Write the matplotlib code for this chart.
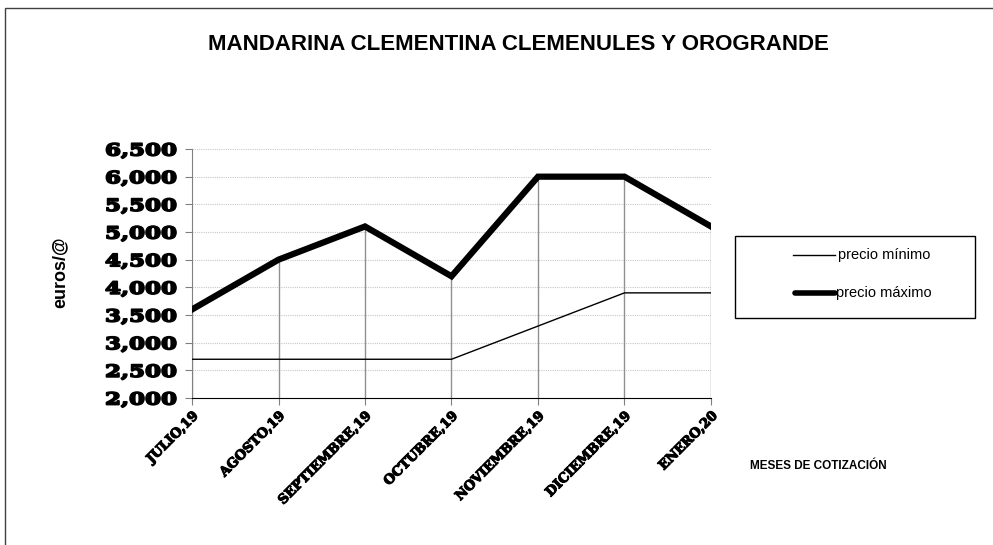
import matplotlib
matplotlib.use("Agg")
import matplotlib.pyplot as plt
from matplotlib.patches import Rectangle
from matplotlib.lines import Line2D
from matplotlib.transforms import Affine2D
import matplotlib.patheffects as pe

months = ["JULIO,19", "AGOSTO,19", "SEPTIEMBRE,19", "OCTUBRE,19",
          "NOVIEMBRE,19", "DICIEMBRE,19", "ENERO,20"]
precio_min = [2.7, 2.7, 2.7, 2.7, 3.3, 3.9, 3.9]
precio_max = [3.6, 4.5, 5.1, 4.2, 6.0, 6.0, 5.1]
yticks = [2.0, 2.5, 3.0, 3.5, 4.0, 4.5, 5.0, 5.5, 6.0, 6.5]
ytick_labels = ["2,000", "2,500", "3,000", "3,500", "4,000", "4,500",
                "5,000", "5,500", "6,000", "6,500"]


class StretchStroke(pe.AbstractPathEffect):
    """Draw text path stretched horizontally with an extra stroke."""

    def __init__(self, sx=1.0, lw=1.0):
        super().__init__()
        self.sx = sx
        self.lw = lw

    def draw_path(self, renderer, gc, tpath, affine, rgbFace=None):
        aff = Affine2D().scale(self.sx, 1.0) + affine
        gc0 = renderer.new_gc()
        gc0.copy_properties(gc)
        gc0.set_linewidth(self.lw)
        gc0.set_foreground("black")
        renderer.draw_path(gc0, tpath, aff, rgbFace)
        gc0.restore()


W, H = 993, 545
fig = plt.figure(figsize=(W / 100, H / 100), dpi=100)
fig.patch.set_facecolor("white")

# outer chart border (top and left visible)
fig.add_artist(Rectangle((5 / W, -0.05), 1.2, 1 - 8 / H + 0.05,
                         transform=fig.transFigure, fill=False,
                         edgecolor="#404040", linewidth=1.0))

ax = fig.add_axes([192 / W, 1 - 398 / H, (711 - 192) / W, (398 - 149) / H])
x = list(range(len(months)))

ax.set_xlim(0, len(months) - 1)
ax.set_ylim(2.0, 6.5)

# horizontal dotted gridlines
for yv in yticks[1:]:
    ax.axhline(yv, color="#c8c8c8", linestyle=(0, (1, 1)), linewidth=0.8, zorder=0)

# drop lines
ax.vlines(x, 2.0, precio_max, colors="#909090", linewidth=1.0, zorder=1)

ax.plot(x, precio_min, color="black", linewidth=1.0, label="precio mínimo", zorder=3)
ax.plot(x, precio_max, color="black", linewidth=4.5, label="precio máximo",
        solid_joinstyle="miter", zorder=4)

# y tick labels: wide heavy serif (drawn as stretched text)
ax.set_yticks(yticks)
ax.set_yticklabels([""] * len(yticks))
x_left_axes = (105 - 192) / (711 - 192)
for yv, lab in zip(yticks, ytick_labels):
    ax.text(x_left_axes, yv, lab, transform=ax.get_yaxis_transform(),
            ha="left", va="center_baseline", fontfamily="DejaVu Serif",
            fontweight="bold", fontsize=12,
            path_effects=[StretchStroke(sx=1.38, lw=1.3)], clip_on=False)

ax.set_xticks(x)
ax.set_xticklabels(months, rotation=45, ha="right", rotation_mode="anchor",
                   fontfamily="DejaVu Serif", fontweight="bold", fontsize=9.5,
                   path_effects=[pe.withStroke(linewidth=0.8, foreground="black")])

for s in ["top", "right"]:
    ax.spines[s].set_visible(False)
ax.spines["left"].set_color("#808080")
ax.spines["bottom"].set_color("black")
ax.tick_params(axis="y", direction="out", length=5, color="#808080", pad=8)
ax.tick_params(axis="x", direction="out", length=5, color="#808080", pad=3)

fig.text(518 / W, 1 - 45 / H, "MANDARINA CLEMENTINA CLEMENULES Y OROGRANDE",
         ha="center", va="center", fontsize=16, fontweight="bold",
         fontfamily="Liberation Sans")
fig.text(60 / W, 1 - 272 / H, "euros/@", rotation=90, ha="center", va="center",
         fontsize=13, fontweight="bold", fontfamily="Liberation Sans")
fig.text(818 / W, 1 - 466 / H, "MESES DE COTIZACIÓN", ha="center", va="center",
         fontsize=8.5, fontweight="bold", fontfamily="Liberation Sans")

# legend
fig.add_artist(Rectangle((735 / W, 1 - 318 / H), (975 - 735) / W, (318 - 236) / H,
                         transform=fig.transFigure, fill=True, facecolor="white",
                         edgecolor="black", linewidth=1.0))
fig.add_artist(Line2D([793 / W, 835 / W], [1 - 255 / H] * 2, color="black",
                      linewidth=1.0, transform=fig.transFigure))
fig.add_artist(Line2D([795 / W, 835 / W], [1 - 293 / H] * 2, color="black",
                      linewidth=4.0, transform=fig.transFigure,
                      solid_capstyle="round"))
fig.text(838 / W, 1 - 255 / H, "precio mínimo", ha="left", va="center",
         fontsize=10.5, fontfamily="Liberation Sans")
fig.text(836 / W, 1 - 293 / H, "precio máximo", ha="left", va="center",
         fontsize=10.5, fontfamily="Liberation Sans")

fig.savefig("out.png", dpi=100, facecolor="white")
